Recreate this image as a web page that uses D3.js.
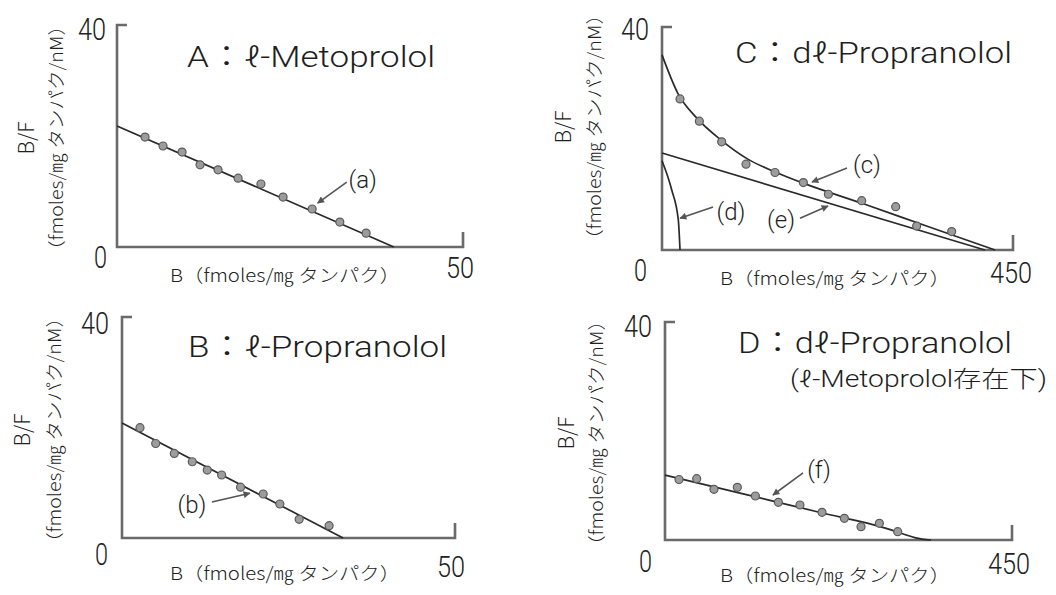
<!DOCTYPE html>
<html>
<head>
<meta charset="utf-8">
<script src="https://cdn.jsdelivr.net/npm/d3@7"></script>
<style>
  body { margin: 0; background: #fff; }
  svg { display: block; }
  .lbl { font-family: "Noto Sans CJK JP", "Noto Sans", sans-serif; font-weight: 300; fill: #222; }
  .ttl { font-family: "Roboto", "Liberation Sans", "Noto Sans CJK JP", sans-serif; font-weight: 300; fill: #1e1e1e; }
  .tick { font-family: "Roboto", "Liberation Sans", sans-serif; font-weight: 300; fill: #222; }
</style>
</head>
<body>
<div id="chart"></div>
<script>
// data
const yMax = 40;
const xMaxes = [50, 50, 450, 450];
const yTickLabels = ["0", "40"];
const xTickLabels = ["50", "50", "450", "450"];
const titles = ["A：ℓ-Metoprolol", "B：ℓ-Propranolol", "C：dℓ-Propranolol", "D：dℓ-Propranolol"];
const subtitleD = "(ℓ-Metoprolol存在下)";
const xLabel = "B（fmoles/㎎ タンパク）";
const yLabel1 = "B/F";
const yLabel2 = "（fmoles/㎎ タンパク/nM）";

// panel A : l-Metoprolol
const ptsA_B  = [4.05, 6.65, 9.4, 12.0, 14.6, 17.5, 20.8, 24.0, 28.2, 32.2, 36.0];
const ptsA_BF = [19.8, 18.2, 17.1, 14.8, 13.9, 12.4, 11.35, 9.0, 6.85, 4.5, 2.5];
const fitA = [[0, 21.8], [40, 0]];

// panel B : l-Propranolol
const ptsB_B  = [2.7, 5.06, 7.85, 10.55, 12.8, 14.96, 17.8, 21.2, 23.7, 26.6, 31.1];
const ptsB_BF = [19.96, 17.1, 15.3, 13.8, 12.3, 11.4, 9.2, 7.96, 6.15, 3.38, 2.23];
const fitB = [[0, 20.8], [33.2, 0]];

// panel C : dl-Propranolol
const ptsC_B  = [23.1, 47.9, 76.5, 107.7, 144.9, 181.2, 213.3, 256, 299.6, 326.5, 371.4];
const ptsC_BF = [27.1, 23.1, 19.4, 15.4, 13.9, 12.1, 10.0, 8.85, 7.77, 4.3, 3.3];
const curveC = [[0, 35], [20, 28.2], [45, 23.6], [75, 19.8], [110, 16.3], [145, 14], [181, 12], [260, 8.2], [340, 4.25], [427, 0]];
const curveD = [[0, 16], [12.4, 10.8], [20.9, 5.4], [23.1, 0]];
const lineE = [[0, 17.4], [414, 0]];

// panel D : dl-Propranolol with l-Metoprolol
const ptsD_B  = [18.2, 41.1, 63.5, 93.8, 117.2, 147, 175, 203.6, 232.6, 254.2, 278, 301.8];
const ptsD_BF = [11.1, 11.25, 9.3, 9.67, 8.07, 6.91, 6.42, 5.08, 3.98, 2.45, 3.06, 1.53];
const fitF = [[0, 11.9], [100, 8.5], [200, 5.1], [290, 2.0], [310, 1.05], [325, 0.4], [345, 0]];

// annotations: label, text centre, arrow tail, arrow tip (data units)
const notesA = [["(a)", [35.5, 12.1], [33.2, 11.7], [29.0, 7.9]]];
const notesB = [["(b)", [10.5, 6.0], [13.5, 6.5], [19.2, 8.1]]];
const notesC = [["(c)", [262.8, 15.2], [237.2, 14.7], [192.3, 12.2]],
                ["(d)", [88.5, 6.8], [65.4, 7.7], [23.1, 5.7]],
                ["(e)", [152.6, 5.4], [176.9, 5.7], [212.8, 7.9]]];
const notesD = [["(f)", [199.7, 12.8], [179, 12.3], [140, 8.26]]];

// layout (pixel boxes of each panel)
const panels = [
  {x0: 117, x1: 463, top: 25, base: 247, title: [187, 67, 248], xl: [170, 282], y1x: 25, y2x: 55, ycy: 138,
   t40: [106, 40], t0: [107, 268], tx: [460, 278],
   pts: [ptsA_B, ptsA_BF], lines: [fitA], curves: [], notes: notesA},
  {x0: 122, x1: 455, top: 317, base: 538, title: [188, 357, 259], xl: [170, 580], y1x: 21, y2x: 53, ycy: 430,
   t40: [109, 334], t0: [108, 565], tx: [451, 577],
   pts: [ptsB_B, ptsB_BF], lines: [fitB], curves: [], notes: notesB},
  {x0: 662, x1: 1013, top: 27, base: 250, title: [735, 63, 277], xl: [720, 285], y1x: 562, y2x: 593, ycy: 127,
   t40: [649, 40], t0: [647, 281], tx: [1011, 283],
   pts: [ptsC_B, ptsC_BF], lines: [lineE], curves: [curveC, curveD], notes: notesC},
  {x0: 665, x1: 1012, top: 322, base: 540, title: [738, 353, 274], xl: [720, 582], y1x: 565, y2x: 595, ycy: 433,
   t40: [652, 337], t0: [652, 572], tx: [1009, 574],
   pts: [ptsD_B, ptsD_BF], lines: [fitF], curves: [], notes: notesD}
];

const svg = d3.select('#chart').append('svg')
  .attr('width', 1056)
  .attr('height', 595);

svg.append('defs').append('marker')
  .attr('id', 'arrow')
  .attr('viewBox', '0 0 10 10')
  .attr('refX', 9).attr('refY', 5)
  .attr('markerWidth', 10).attr('markerHeight', 7)
  .attr('markerUnits', 'userSpaceOnUse')
  .attr('orient', 'auto')
  .append('path')
  .attr('d', 'M0,0 L10,5 L0,10 Z')
  .attr('fill', '#555');

panels.forEach((p, i) => {
  const x = d3.scaleLinear().domain([0, xMaxes[i]]).range([p.x0, p.x1]);
  const y = d3.scaleLinear().domain([0, yMax]).range([p.base, p.top]);
  const g = svg.append('g').attr('class', 'panel');

  // axes: L-shaped frame with small end ticks
  const axisPath = d3.path();
  axisPath.moveTo(x(0) + 10, y(yMax));
  axisPath.lineTo(x(0), y(yMax));
  axisPath.lineTo(x(0), y(0));
  axisPath.lineTo(x(xMaxes[i]), y(0));
  axisPath.lineTo(x(xMaxes[i]), y(0) - 15);
  g.append('path')
    .attr('d', axisPath.toString())
    .attr('fill', 'none')
    .attr('stroke', '#6a6a6a')
    .attr('stroke-width', 2.6);

  // tick labels
  g.append('text').attr('class', 'tick')
    .attr('x', p.t40[0]).attr('y', p.t40[1])
    .attr('text-anchor', 'end')
    .attr('font-size', 32)
    .attr('textLength', 28).attr('lengthAdjust', 'spacingAndGlyphs')
    .text(yTickLabels[1]);
  g.append('text').attr('class', 'tick')
    .attr('x', p.t0[0]).attr('y', p.t0[1])
    .attr('text-anchor', 'end')
    .attr('font-size', 32)
    .attr('textLength', 13).attr('lengthAdjust', 'spacingAndGlyphs')
    .text(yTickLabels[0]);
  g.append('text').attr('class', 'tick')
    .attr('x', p.tx[0]).attr('y', p.tx[1])
    .attr('text-anchor', 'middle')
    .attr('font-size', 30)
    .attr('textLength', xTickLabels[i].length * 14).attr('lengthAdjust', 'spacingAndGlyphs')
    .text(xTickLabels[i]);

  // axis titles
  g.append('text').attr('class', 'lbl')
    .attr('x', p.xl[0]).attr('y', p.xl[1])
    .attr('font-size', 18)
    .attr('textLength', 230).attr('lengthAdjust', 'spacingAndGlyphs')
    .text(xLabel);
  g.append('text').attr('class', 'lbl')
    .attr('transform', `translate(${p.y1x},${p.ycy}) rotate(-90)`)
    .attr('text-anchor', 'middle')
    .attr('dominant-baseline', 'central')
    .attr('font-size', 21)
    .text(yLabel1);
  g.append('text').attr('class', 'lbl')
    .attr('transform', `translate(${p.y2x},${p.ycy}) rotate(-90)`)
    .attr('text-anchor', 'middle')
    .attr('dominant-baseline', 'central')
    .attr('font-size', 18)
    .attr('textLength', 244).attr('lengthAdjust', 'spacingAndGlyphs')
    .text(yLabel2);

  // panel title
  g.append('text').attr('class', 'ttl')
    .attr('x', p.title[0]).attr('y', p.title[1])
    .attr('font-size', 29)
    .attr('textLength', p.title[2]).attr('lengthAdjust', 'spacingAndGlyphs')
    .text(titles[i]);
  if (i === 3) {
    g.append('text').attr('class', 'ttl')
      .attr('x', 790).attr('y', 387)
      .attr('font-size', 23)
      .attr('textLength', 257).attr('lengthAdjust', 'spacingAndGlyphs')
      .text(subtitleD);
  }

  // fitted lines and curves
  const straight = d3.line().x(d => x(d[0])).y(d => y(d[1]));
  const smooth = d3.line().x(d => x(d[0])).y(d => y(d[1])).curve(d3.curveMonotoneX);
  p.lines.forEach(l => {
    g.append('path')
      .attr('d', (l.length > 2 ? smooth : straight)(l))
      .attr('fill', 'none')
      .attr('stroke', '#2a2a2a')
      .attr('stroke-width', 1.7);
  });
  p.curves.forEach(c => {
    g.append('path')
      .attr('d', smooth(c))
      .attr('fill', 'none')
      .attr('stroke', '#2a2a2a')
      .attr('stroke-width', 1.7);
  });

  // data points
  const pts = p.pts[0].map((b, k) => [b, p.pts[1][k]]);
  g.selectAll('circle.pt')
    .data(pts)
    .join('circle')
    .attr('class', 'pt')
    .attr('cx', d => x(d[0]))
    .attr('cy', d => y(d[1]))
    .attr('r', 4)
    .attr('fill', '#9c9c9c')
    .attr('stroke', '#5a5a5a')
    .attr('stroke-width', 1.2);

  // annotations
  p.notes.forEach(n => {
    g.append('text').attr('class', 'ttl')
      .attr('x', x(n[1][0])).attr('y', y(n[1][1]))
      .attr('text-anchor', 'middle')
      .attr('dominant-baseline', 'central')
      .attr('font-size', 24)
      .text(n[0]);
    g.append('line')
      .attr('x1', x(n[2][0])).attr('y1', y(n[2][1]))
      .attr('x2', x(n[3][0])).attr('y2', y(n[3][1]))
      .attr('stroke', '#555')
      .attr('stroke-width', 1.6)
      .attr('marker-end', 'url(#arrow)');
  });
});
</script>
</body>
</html>
